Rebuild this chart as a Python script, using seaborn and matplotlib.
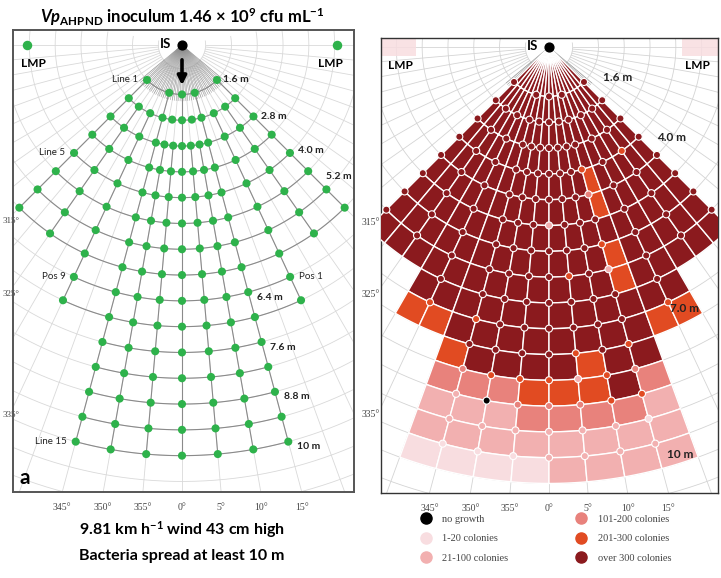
import numpy as np
import pandas as pd
import seaborn as sns
import matplotlib.pyplot as plt
from matplotlib.lines import Line2D

plt.rcParams['font.family'] = ['Lato', 'DejaVu Sans']
plt.rcParams['mathtext.fontset'] = 'custom'
plt.rcParams['mathtext.rm'] = 'Lato'
plt.rcParams['mathtext.it'] = 'Lato:italic'
plt.rcParams['mathtext.bf'] = 'Lato:bold'
plt.rcParams['mathtext.bfit'] = 'Lato:bold:italic'

# sampling lines (distance label, m) and bearing (deg) of the plates on each line
LINE_DIST = [1.6, 2.2, 2.8, 3.4, 4.0, 4.6, 5.2, 5.8, 6.4, 7.0, 7.6, 8.2, 8.8, 9.4, 10.0]
ANG_FULL = [-45, -35, -25, -15, -10, -5, 0, 5, 10, 15, 25, 35, 45]
ANG_NINE = [-25, -15, -10, -5, 0, 5, 10, 15, 25]
ANG_SEVEN = [-15, -10, -5, 0, 5, 10, 15]
LINE_ANGLES = ([[-45, -15, 0, 15, 45],
                [-45, -35, -25, -15, -7.5, 0, 7.5, 15, 25, 35, 45]]
               + [ANG_FULL] * 6 + [ANG_NINE] * 2 + [ANG_SEVEN] * 5)
IS_OFFSET = 0.45      # line distances are counted from 0.45 m behind the source
OUTER_DIST = 10.6     # outer edge of the last plate band
LMP_X = [-3.6, 3.6]

TICK_ANGLES = [-15, -10, -5, 0, 5, 10, 15]
TICK_LABELS = ['345°', '350°', '355°', '0°', '5°', '10°', '15°']
SIDE_ANGLES = [-45, -35, -25]
SIDE_LABELS = ['315°', '325°', '335°']

CATEGORIES = ['no growth', '1-20 colonies', '21-100 colonies',
              '101-200 colonies', '201-300 colonies', 'over 300 colonies']
CAT_CODES = ['N', 'L', 'P', 'S', 'O', 'D']
CAT_COLORS = ['#000000', '#f8dde0', '#f2b0b0', '#e8827c', '#e14b22', '#8b1a1e']

# colony class per band (between successive lines), 18 bins of 5 deg from 315 to 45 deg
BAND_COUNTS = [
    'DDDDDDDDDDDDDDDDDD',
    'DDDDDDDDDDDDDDDDDD',
    'DDDDDDDDDDDDDDDDDD',
    'DDDDDDDDDDDDDDDDDD',
    'DDDDDDDDDDDDODDDDD',
    'DDDDDDDDDDDDODDDDD',
    'DDDDDDDDDDDDDDDDDD',
    'DDDDDDDDDDDDODDDDD',
    'DDDDDDDDDDDDODDDDD',
    '...DDDDDDDDDDDD...',
    '...OODDDDDDDDOO...',
    '.....ODDDDODD.....',
    '.....SSSOOODS.....',
    '.....PPPSSSSP.....',
    '.....PPPPPPPP.....',
    '.....LLLLPPPP.....',
]
# single plates that differ from their band
SPECIAL_LINE = [4, 5, 6, 8, 8, 10, 10, 10, 11, 12, 12, 12, 13, 13, 13, 14]
SPECIAL_ANGLE = [35, 15, 0, 5, 15, -25, -15, 25, 15, -10, 5, 10, -10, 10, 15, 15]
SPECIAL_CAT = ['O', 'S', 'P', 'O', 'P', 'O', 'O', 'O', 'O', 'O', 'P', 'O', 'N', 'O', 'O', 'L']

GREEN = '#2eb24b'
color_of = dict(zip(CAT_CODES, CAT_COLORS))


def polar(rho, ang):
    a = np.radians(ang)
    return rho * np.sin(a), -rho * np.cos(a)


rows = []
for k, (d, angs) in enumerate(zip(LINE_DIST, LINE_ANGLES), start=1):
    for a in angs:
        rows.append((k, d, a))
pts = pd.DataFrame(rows, columns=['line', 'dist', 'angle'])
pts['rho'] = pts['dist'] - IS_OFFSET
pts['x'], pts['y'] = polar(pts['rho'], pts['angle'])

band_rho = [0.0] + [d - IS_OFFSET for d in LINE_DIST] + [OUTER_DIST - IS_OFFSET]


def draw_grid(ax, col):
    t = np.linspace(-100, 100, 300)
    for rho in np.arange(0.55, 16.0, 0.6):
        x, y = polar(rho, t)
        ax.plot(x, y, color=col, lw=0.6, zorder=1)
    for a in np.arange(-90, 91, 5):
        x, y = polar(np.array([0.55, 16.0]), a)
        ax.plot(x, y, color=col, lw=0.6, zorder=1)
    for a in np.arange(-50, 51, 2):
        x, y = polar(np.array([0.0, 1.3]), a)
        ax.plot(x, y, color='#8c8c8c', lw=0.35, zorder=1)
    ax.scatter([0], [0], s=40, color='black', zorder=6)


fig = plt.figure(figsize=(7.21, 5.78), dpi=100)
M = 43.0  # pixels per metre
axL = fig.add_axes([13 / 721, 1 - 492 / 578, 341 / 721, 462 / 578])
axR = fig.add_axes([381 / 721, 1 - 493 / 578, 337 / 721, 455 / 578])
axL.set_xlim(-169 / M, 172 / M)
axL.set_ylim(-(492 - 45) / M, (45 - 30) / M)
axR.set_xlim(-(549 - 381) / M, (718 - 549) / M)
axR.set_ylim(-(493 - 47) / M, (47 - 38) / M)

# ---------------- left panel: sampling layout ----------------
draw_grid(axL, '#d9d9d9')
for k, g in pts.groupby('line'):
    t = np.linspace(g['angle'].min(), g['angle'].max(), 100)
    x, y = polar(g['rho'].iloc[0], t)
    axL.plot(x, y, color='#8a8a8a', lw=0.8, zorder=2)
for a, g in pts.groupby('angle'):
    if len(g) > 1:
        x, y = polar(np.array([g['rho'].min(), g['rho'].max()]), a)
        axL.plot(x, y, color='#8a8a8a', lw=0.8, zorder=2)
sns.scatterplot(data=pts, x='x', y='y', color=GREEN, s=34, edgecolor='none',
                ax=axL, zorder=5, legend=False)
axL.scatter(LMP_X, [0, 0], s=34, color=GREEN, zorder=5)
axL.annotate('', xy=(0, -1.0), xytext=(0, -0.28),
             arrowprops=dict(arrowstyle='-|>', lw=2.6, color='black', mutation_scale=13), zorder=7)


def pt_xy(line, ang):
    return polar(LINE_DIST[line - 1] - IS_OFFSET, ang)


lab = dict(fontsize=7, color='#222', va='center')
big = dict(fontsize=8.5, fontweight='bold', color='#222', va='center')
for ax in (axL, axR):
    ax.text(-0.25, 0.02, 'IS', ha='right', fontsize=9.5, fontweight='bold', va='center', zorder=7)
    for lx in LMP_X:
        ax.text(lx * 0.96, -0.42, 'LMP', ha='center', fontsize=8.5, fontweight='bold', va='center', zorder=7)

x, y = pt_xy(1, -45); axL.text(x - 0.2, y, 'Line 1', ha='right', **lab)
x, y = pt_xy(5, -45); axL.text(x - 0.2, y, 'Line 5', ha='right', **lab)
x, y = pt_xy(15, -15); axL.text(x - 0.2, y, 'Line 15', ha='right', **lab)
x, y = pt_xy(9, -25); axL.text(x - 0.2, y, 'Pos 9', ha='right', **lab)
x, y = pt_xy(9, 25); axL.text(x + 0.2, y, 'Pos 1', ha='left', **lab)
for line, ang, txt, dx, dy in [(1, 45, '1.6 m', 0.15, 0.0), (3, 45, '2.8 m', 0.18, 0.0),
                               (5, 45, '4.0 m', 0.18, 0.05), (7, 45, '5.2 m', 0.0, 0.3),
                               (9, 15, '6.4 m', 0.2, -0.12), (11, 15, '7.6 m', 0.2, -0.12),
                               (13, 15, '8.8 m', 0.2, -0.12), (15, 15, '10 m', 0.2, -0.12)]:
    x, y = pt_xy(line, ang)
    axL.text(x + dx, y + dy, txt, ha='left', **dict(lab, fontsize=7.5, fontweight='bold'))
axL.text(0.02, 0.03, 'a', transform=axL.transAxes, fontsize=15, fontweight='bold', va='center')

# ---------------- right panel: colony counts ----------------
draw_grid(axR, '#d4d4d4')
for lx in LMP_X:
    axR.fill([lx - 0.5, lx + 0.5, lx + 0.5, lx - 0.5], [-0.22, -0.22, 0.22, 0.22],
             color=color_of['L'], lw=0, zorder=1.5, alpha=0.85)
for r, band in enumerate(BAND_COUNTS):
    r0, r1 = band_rho[r], band_rho[r + 1]
    for b, c in enumerate(band):
        if c == '.':
            continue
        t = np.linspace(-45 + 5 * b, -40 + 5 * b, 12)
        xo, yo = polar(r1, t)
        xi, yi = polar(r0, t[::-1])
        axR.fill(np.r_[xo, xi], np.r_[yo, yi], facecolor=color_of[c], edgecolor='white',
                 lw=1.0, zorder=3)


def default_cat(line, ang):
    b = int(np.clip((ang + 2.5 + 45) // 5, 0, 17))
    for r in (line, line - 1):
        if r < len(BAND_COUNTS) and BAND_COUNTS[r][b] != '.':
            return BAND_COUNTS[r][b]
    return 'D'


special = {(l, a): c for l, a, c in zip(SPECIAL_LINE, SPECIAL_ANGLE, SPECIAL_CAT)}
pts['cat'] = [special.get((l, a), default_cat(l, a)) for l, a in zip(pts['line'], pts['angle'])]
sns.scatterplot(data=pts, x='x', y='y', hue='cat', palette=color_of, s=26,
                edgecolor='white', linewidth=0.8, ax=axR, zorder=5, legend=False)

for line, ang, txt, dx, dy in [(1, 45, '1.6 m', 0.45, 0.1), (5, 45, '4.0 m', 0.0, 0.4),
                               (10, 25, '7.0 m', 0.05, -0.15), (15, 15, '10 m', 0.28, -0.25)]:
    x, y = pt_xy(line, ang)
    axR.text(x + dx, y + dy, txt, ha='left', zorder=7, **big)

# frames and bearing labels
for ax, ec, lw in ((axL, '#555555', 1.4), (axR, '#333333', 1.0)):
    ax.set_aspect('auto')
    for s in ax.spines.values():
        s.set_color(ec)
        s.set_linewidth(lw)
    ybot = -ax.get_ylim()[0]
    xedge = -ax.get_xlim()[0]
    ax.set_xticks([ybot * np.tan(np.radians(a)) for a in TICK_ANGLES], TICK_LABELS)
    ax.set_yticks([-xedge / np.tan(np.radians(-a)) - 0.15 for a in SIDE_ANGLES], SIDE_LABELS)
    ax.tick_params(length=0, labelsize=7, labelcolor='#444', pad=8)
    ax.tick_params(axis='y', pad=1)
    for t in ax.get_xticklabels() + ax.get_yticklabels():
        t.set_fontfamily('Liberation Serif')
    ax.set_xlabel('')
    ax.set_ylabel('')
# the left panel sits against the figure edge: keep its side labels inside the figure
axL.tick_params(axis='y', labelsize=6.5, pad=-5)

fig.text(182 / 721, 1 - 17 / 578,
         r'$\mathbfit{Vp}_{\mathbf{AHPND}}$ inoculum 1.46 × 10$^{\mathbf{9}}$ cfu mL$^{\mathbf{-1}}$',
         ha='center', va='center', fontsize=12, fontweight='bold')
fig.text(182 / 721, 1 - 530 / 578, r'9.81 km h$^{\mathbf{-1}}$ wind 43 cm high',
         ha='center', va='center', fontsize=11.5, fontweight='bold')
fig.text(182 / 721, 1 - 556 / 578, 'Bacteria spread at least 10 m',
         ha='center', va='center', fontsize=11.5, fontweight='bold')

handles = [Line2D([], [], marker='o', ls='', markersize=8, markerfacecolor=c, markeredgecolor=c)
           for c in CAT_COLORS]
fig.legend(handles, CATEGORIES, ncol=2, loc='upper left', bbox_to_anchor=(411 / 721, 1 - 505 / 578),
           frameon=False, handlelength=1.0, handletextpad=1.1, columnspacing=6.5,
           labelspacing=1.0, labelcolor='#444',
           prop={'family': 'Liberation Serif', 'size': 7.5})

fig.savefig('out.png', dpi=100)
